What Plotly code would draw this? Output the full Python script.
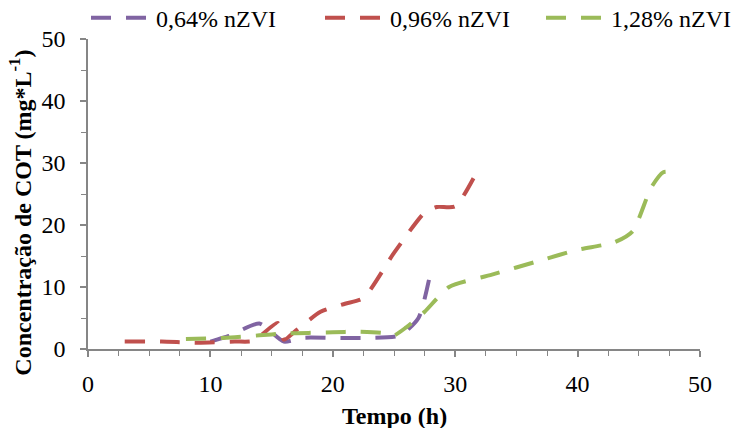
import plotly.graph_objects as go

# ---- data ----
x_064 = [10, 11.5, 14, 16, 17.5, 20, 23, 25.5, 27, 28]
y_064 = [1.2, 2.1, 4.1, 1.2, 1.8, 1.8, 1.8, 2.2, 5.0, 12.5]

x_096 = [3, 6, 9, 12, 13.5, 15.5, 16, 17, 19, 21, 22.5, 25, 27.5, 28.5, 30, 31.7]
y_096 = [1.2, 1.2, 1.0, 1.2, 1.3, 4.2, 1.5, 3.0, 6.0, 7.3, 8.2, 15.5, 22.0, 22.9, 23.0, 28.3]

x_128 = [8, 10, 12, 14, 16, 18, 20, 22, 24, 25, 26, 27.5, 29.5, 33, 37, 40, 43, 44.5, 46, 47, 48]
y_128 = [1.6, 1.7, 1.9, 2.2, 2.5, 2.6, 2.7, 2.8, 2.6, 2.2, 3.5, 6.0, 10.0, 12.0, 14.3, 16.0, 17.2, 19.0, 26.0, 28.5, 28.5]

series_names = ["0,64% nZVI", "0,96% nZVI", "1,28% nZVI"]
series_colors = ["#8064A2", "#C0504D", "#9BBB59"]

x_ticks = [0, 10, 20, 30, 40, 50]
y_ticks = [0, 10, 20, 30, 40, 50]

FONT = "Liberation Serif, Times New Roman, serif"
FS = 24

legend_ids = ["legend", "legend2", "legend3"]
legend_left_px = [86, 320, 541]  # left edge of each legend box (container px)

fig = go.Figure()
for xs, ys, name, col, lid in zip([x_064, x_096, x_128], [y_064, y_096, y_128],
                                  series_names, series_colors, legend_ids):
    fig.add_trace(go.Scatter(
        x=xs, y=ys, name=name, mode="lines", legend=lid, showlegend=True,
        line=dict(color=col, width=4, dash="20px,15px", shape="spline", smoothing=0.6),
    ))

axis_common = dict(
    showgrid=False, zeroline=False, showline=True, linecolor="#868686", linewidth=1.5,
    ticks="outside", tickcolor="#868686", ticklen=6, tickwidth=1.5,
    tickfont=dict(family=FONT, size=FS, color="black"),
)

fig.update_xaxes(range=[0, 50], tickvals=x_ticks, ticktext=[str(v) for v in x_ticks],
                 ticklabelstandoff=6,
                 minor=dict(dtick=2.5, ticks="outside", ticklen=5, tickcolor="#868686", tickwidth=1.2),
                 **axis_common)
fig.update_yaxes(range=[0, 50], tickvals=y_ticks, ticktext=[str(v) for v in y_ticks],
                 ticklabelstandoff=10,
                 minor=dict(dtick=5, ticks="outside", ticklen=5, tickcolor="#868686", tickwidth=1.2),
                 **axis_common)

legend_style = dict(orientation="h", xref="container", yref="paper", y=1.14,
                    xanchor="left", yanchor="top", itemwidth=60,
                    font=dict(family=FONT, size=FS, color="black"), bgcolor="rgba(0,0,0,0)")
layout_legends = {lid: dict(x=px / 749, **legend_style) for lid, px in zip(legend_ids, legend_left_px)}

fig.update_layout(
    width=749, height=428,
    showlegend=True,
    margin=dict(l=88, r=49, t=39, b=79, autoexpand=False),
    plot_bgcolor="white", paper_bgcolor="white",
    font=dict(family=FONT, size=FS, color="black"),
    annotations=[
        dict(text="<b>Tempo (h)</b>", xref="paper", yref="paper", x=0.5, y=-0.215,
             xanchor="center", yanchor="middle", showarrow=False,
             font=dict(family=FONT, size=FS, color="black")),
        dict(text="<b>Concentração de COT (mg*L<sup>-1</sup>)</b>", xref="paper", yref="paper",
             x=-0.111, y=0.44, xanchor="center", yanchor="middle", textangle=-90, showarrow=False,
             font=dict(family=FONT, size=FS, color="black")),
    ],
    **layout_legends,
)

fig.write_html("out.html", config={"displayModeBar": False},
               post_script="document.body.style.margin='0';")
